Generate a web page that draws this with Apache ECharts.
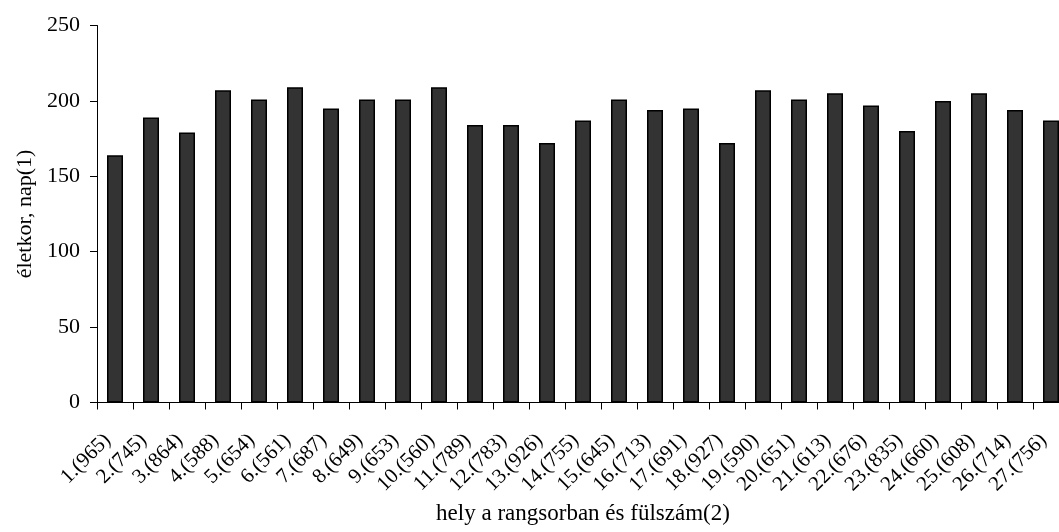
<!DOCTYPE html>
<html>
<head>
<meta charset="utf-8">
<script src="https://cdn.jsdelivr.net/npm/echarts@6/dist/echarts.min.js"></script>
<style>
html,body{margin:0;padding:0;overflow:hidden;background:#fff;}
#c{width:1080px;height:532px;}
</style>
</head>
<body>
<div id="c"></div>
<script>
const categories = ["1.(965)","2.(745)","3.(864)","4.(588)","5.(654)","6.(561)","7.(687)","8.(649)","9.(653)","10.(560)","11.(789)","12.(783)","13.(926)","14.(755)","15.(645)","16.(713)","17.(691)","18.(927)","19.(590)","20.(651)","21.(613)","22.(676)","23.(835)","24.(660)","25.(608)","26.(714)","27.(756)"];
const values = [164,189,179,207,201,209,195,201,201,209,184,184,172,187,201,194,195,172,207,201,205,197,180,200,205,194,187];
const yTicks = {min:0, max:250, interval:50};
const xName = "hely a rangsorban és fülszám(2)";
const yName = "életkor, nap(1)";

const font = "Liberation Serif";
const chart = echarts.init(document.getElementById('c'), null, {renderer:'canvas'});
chart.setOption({
  animation:false,
  grid:{left:97, right:11, top:25.5, bottom:129.5, containLabel:false},
  xAxis:{
    type:'category', data:categories,
    name:xName, nameLocation:'middle', nameGap:100,
    nameTextStyle:{fontFamily:font, fontSize:23, color:'#000'},
    axisLine:{lineStyle:{color:'#000', width:1}},
    axisTick:{show:true, length:7, lineStyle:{color:'#000'}},
    axisLabel:{rotate:45, interval:0, margin:42, verticalAlign:'bottom', fontFamily:font, fontSize:21, color:'#000'},
    splitLine:{show:false}
  },
  yAxis:{
    type:'value', min:yTicks.min, max:yTicks.max, interval:yTicks.interval,
    name:yName, nameLocation:'middle', nameGap:52, nameRotate:90,
    nameTextStyle:{fontFamily:font, fontSize:22, color:'#000'},
    axisLine:{show:true, lineStyle:{color:'#000', width:1}},
    axisTick:{show:true, length:7, lineStyle:{color:'#000'}},
    axisLabel:{margin:17, fontFamily:font, fontSize:22, color:'#000'},
    splitLine:{show:false}
  },
  series:[{
    type:'bar', data:values, barWidth:16,
    itemStyle:{color:'#333333', borderColor:'#000', borderWidth:1.5}
  }]
});
</script>
</body>
</html>
